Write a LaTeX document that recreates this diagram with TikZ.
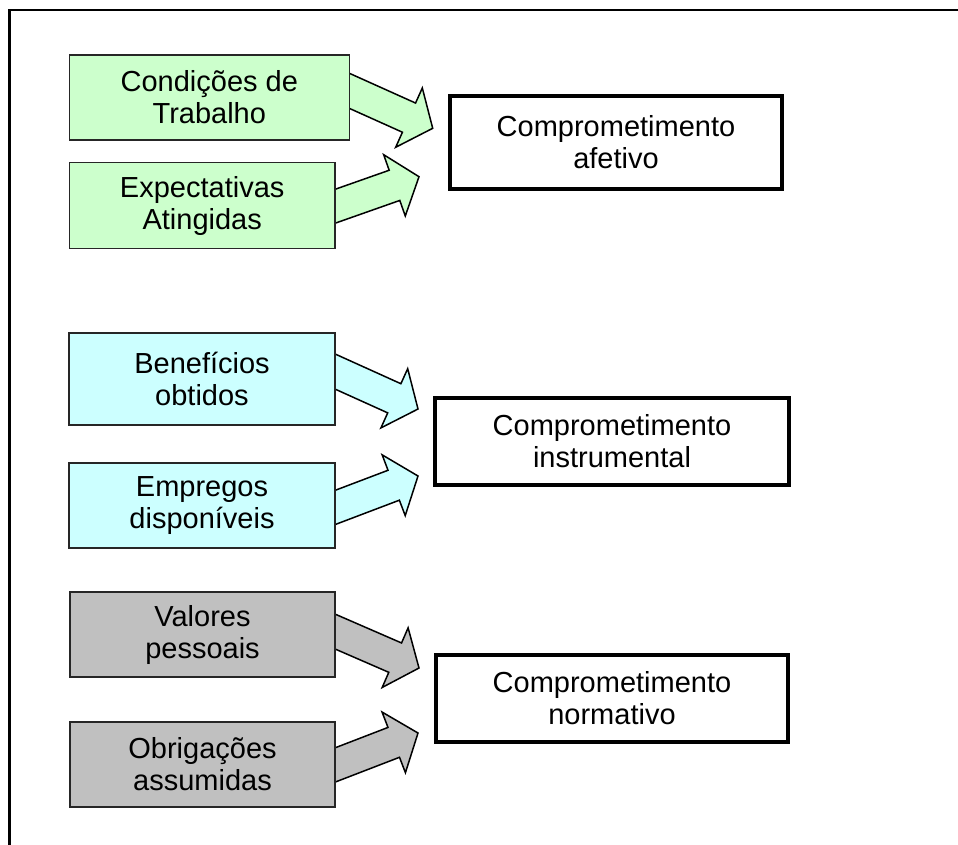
\documentclass[tikz,border=0pt]{standalone}
\usepackage{fontspec}
\setmainfont{Liberation Sans}
\usetikzlibrary{calc}
\definecolor{ingreen}{RGB}{204,255,204}
\definecolor{incyan}{RGB}{204,255,255}
\definecolor{ingray}{RGB}{192,192,192}
\newcommand\blockarrow[3]{%
  \coordinate (ba-s) at ($(#1)!-14pt!(#2)$);
  \coordinate (ba-h) at ($(#2)!26pt!(#1)$);
  \filldraw[arrowline, fill=#3]
    ($(ba-s)!16pt!90:(#2)$) -- ($(ba-h)!16pt!90:(#2)$) -- ($(ba-h)!32.5pt!90:(#2)$)
    -- (#2) -- ($(ba-h)!32.5pt!-90:(#2)$) -- ($(ba-h)!16pt!-90:(#2)$)
    -- ($(ba-s)!16pt!-90:(#2)$) -- cycle;}
\begin{document}
\begin{tikzpicture}[x=1pt,y=-1pt,
  txt/.style={align=center, inner sep=0pt, font=\fontsize{29}{32}\selectfont},
  inbox/.style={txt, draw=black!85, line width=1.5pt},
  outbox/.style={txt, draw=black, line width=4pt, fill=white},
  arrowline/.style={draw=black, line width=1.5pt, line join=miter}]
\useasboundingbox (0,0) rectangle (958,844);
\clip (0,0) rectangle (958,844);
\fill[white] (0,0) rectangle (958,844);
\draw[line width=2.5pt] (9.5,900) -- (9.5,10) -- (1000,10);

% source boxes (positions only)
\coordinate (pg1) at (209.3,97.5);
\coordinate (pg2) at (202.2,205.5);
\coordinate (pc1) at (202,379);
\coordinate (pc2) at (202,505.5);
\coordinate (py1) at (202.5,634.5);
\coordinate (py2) at (202.5,764.5);

% arrow start points on box edges and tips
\coordinate (s1) at ($(pg1)+(140,-6.7)$);
\coordinate (s2) at ($(pg2)+(132.8,0.8)$);
\coordinate (s3) at ($(pc1)+(133,-7.5)$);
\coordinate (s4) at ($(pc2)+(133,2)$);
\coordinate (s5) at ($(py1)+(132.5,-3)$);
\coordinate (s6) at ($(py2)+(132.5,0.5)$);
\coordinate (t1) at (432.7,128.3);
\coordinate (t2) at (419,176.7);
\coordinate (t3) at (418,409);
\coordinate (t4) at (418,476);
\coordinate (t5) at (419,668);
\coordinate (t6) at (418,733);

\blockarrow{s1}{t1}{ingreen}
\blockarrow{s2}{t2}{ingreen}
\blockarrow{s3}{t3}{incyan}
\blockarrow{s4}{t4}{incyan}
\blockarrow{s5}{t5}{ingray}
\blockarrow{s6}{t6}{ingray}

\node[inbox, fill=ingreen, minimum width=280pt, minimum height=85pt] (g1) at (pg1) {Condições de\\Trabalho};
\node[inbox, fill=ingreen, minimum width=265.7pt, minimum height=85.6pt] (g2) at (pg2) {Expectativas\\Atingidas};
\node[inbox, fill=incyan, minimum width=266pt, minimum height=92pt] (c1) at (pc1) {Benefícios\\obtidos};
\node[inbox, fill=incyan, minimum width=266pt, minimum height=85pt] (c2) at (pc2) {Empregos\\disponíveis};
\node[inbox, fill=ingray, minimum width=265pt, minimum height=85pt] (y1) at (py1) {Valores\\pessoais};
\node[inbox, fill=ingray, minimum width=265pt, minimum height=85pt] (y2) at (py2) {Obrigações\\assumidas};

\node[outbox, minimum width=332pt, minimum height=93pt] (o1) at (616,142.5) {Comprometimento\\afetivo};
\node[outbox, minimum width=354pt, minimum height=87pt] (o2) at (612,441.5) {Comprometimento\\instrumental};
\node[outbox, minimum width=352pt, minimum height=87pt] (o3) at (612,698.5) {Comprometimento\\normativo};
\end{tikzpicture}
\end{document}
